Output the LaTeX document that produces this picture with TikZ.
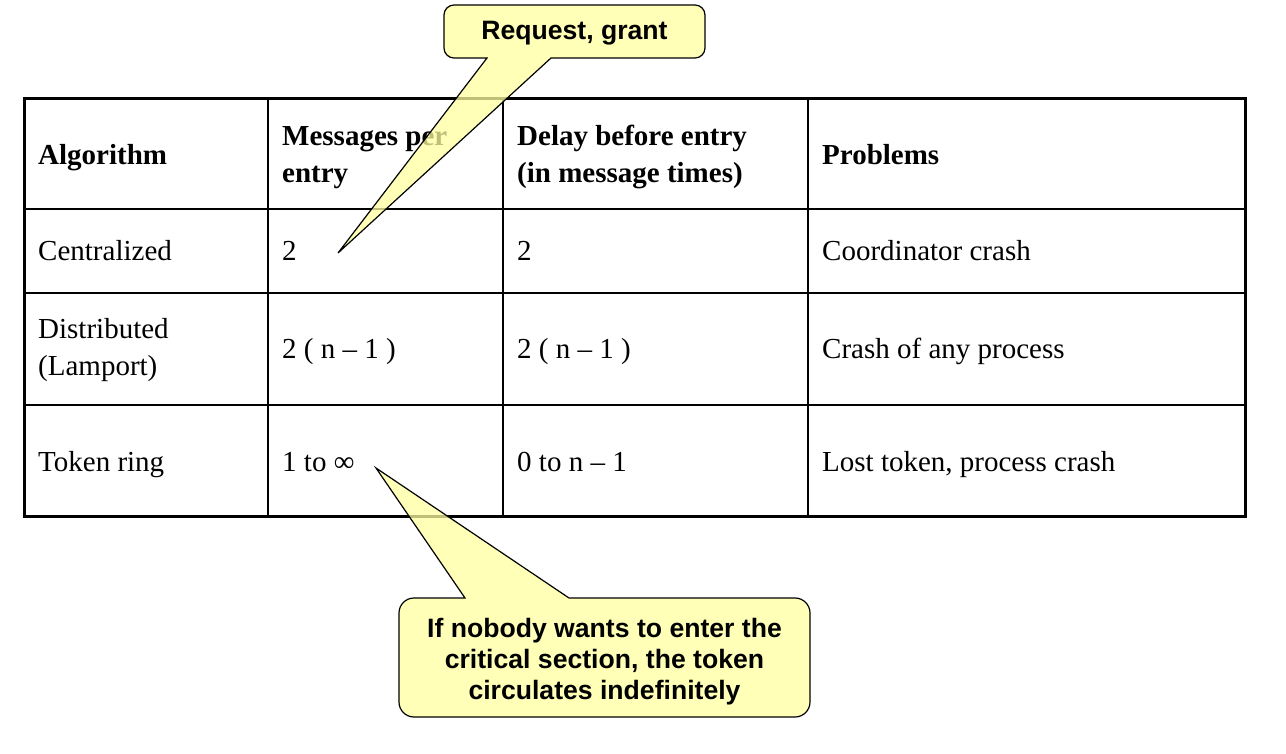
\documentclass[tikz,border=0pt]{standalone}
\usepackage{fontspec}
\setmainfont{Liberation Serif}
\newfontfamily\calloutfont{Liberation Sans}
\definecolor{calloutfill}{RGB}{255,255,160}
\begin{document}
\begin{tikzpicture}[x=1pt,y=-1pt,
  cell/.style={anchor=base west, inner sep=0pt, font=\fontsize{29}{36}\selectfont},
  headcell/.style={anchor=base west, inner sep=0pt, font=\fontsize{29}{36}\selectfont\bfseries},
  gridline/.style={line width=1.5pt, black},
  frameline/.style={line width=3pt, black},
  callout/.style={fill=calloutfill, fill opacity=0.75, draw=black, line width=1.2pt},
  callouttext/.style={font=\calloutfont\bfseries\fontsize{26.6}{31}\selectfont, align=center, inner sep=0pt}]
\useasboundingbox[fill=white] (0,0) rectangle (1286,754);

% table grid
\draw[gridline] (268,99) -- (268,516);
\draw[gridline] (503,99) -- (503,516);
\draw[gridline] (808,99) -- (808,516);
\draw[gridline] (24,209) -- (1245,209);
\draw[gridline] (24,293) -- (1245,293);
\draw[gridline] (24,405) -- (1245,405);
\draw[frameline] (24,99) rectangle (1245,516);

% header row
\node[headcell] (h1) at (38,165) {Algorithm};
\node[headcell] (h2a) at (282,146) {Messages per};
\node[headcell] (h2b) at (282,183) {entry};
\node[headcell] (h3a) at (517,146) {Delay before entry};
\node[headcell] (h3b) at (517,183) {(in message times)};
\node[headcell] (h4) at (822,165) {Problems};

% row 1
\node[cell] (r1c1) at (38,261) {Centralized};
\node[cell] (r1c2) at (282,261) {2};
\node[cell] (r1c3) at (517,261) {2};
\node[cell] (r1c4) at (822,261) {Coordinator crash};

% row 2
\node[cell] (r2c1a) at (38,338) {Distributed};
\node[cell] (r2c1b) at (38,375) {(Lamport)};
\node[cell] (r2c2) at (282,359) {2 ( n -- 1 )};
\node[cell] (r2c3) at (517,359) {2 ( n -- 1 )};
\node[cell] (r2c4) at (822,359) {Crash of any process};

% row 3
\node[cell] (r3c1) at (38,471) {Token ring};
\node[cell] (r3c2) at (282,471) {1 to ∞};
\node[cell] (r3c3) at (517,471) {0 to n -- 1};
\node[cell] (r3c4) at (822,471) {Lost token, process crash};

% callout tips
\coordinate (tipA) at (338,253);
\coordinate (tipB) at (376,468);

% top callout
\path[callout] (tipA) -- (551,58) [rounded corners=10pt] -- (705,58) -- (705,5) -- (444,5) -- (444,58) [sharp corners] -- (487,58) -- cycle;
\node[callouttext, anchor=base] (ca) at (574.5,40) {Request, grant};

% bottom callout
\path[callout] (tipB) -- (569,598) [rounded corners=15pt] -- (810,598) -- (810,717) -- (399,717) -- (399,598) [sharp corners] -- (465,598) -- cycle;
\node[callouttext] (cb) at (604.5,662) {If nobody wants to enter the\\critical section, the token\\circulates indefinitely};
\end{tikzpicture}
\end{document}
